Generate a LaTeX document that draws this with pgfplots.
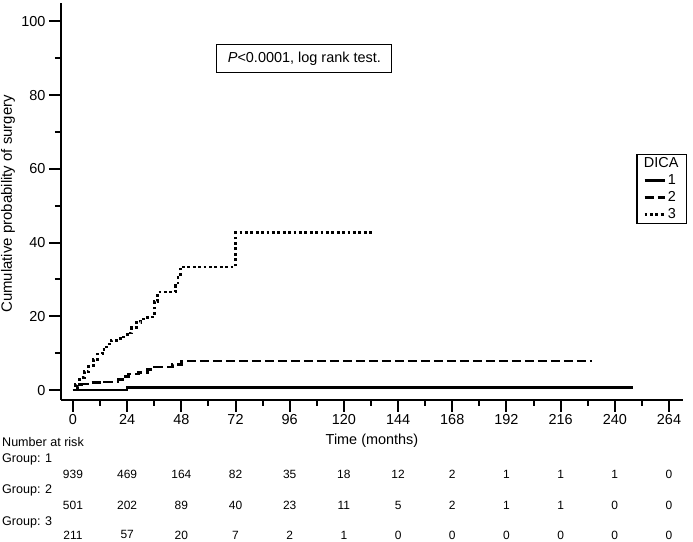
\documentclass[border=0pt]{standalone}
\usepackage{fontspec}
\setmainfont{Liberation Sans}
\usepackage{pgfplots}
\pgfplotsset{compat=1.18}

\begin{document}
\begin{tikzpicture}
\useasboundingbox (-61bp,-142bp) rectangle (632bp,400bp);
\begin{axis}[
  at={(0,0)}, anchor=south west,
  scale only axis,
  width=622bp, height=397bp,
  xmin=-5.3, xmax=270.2,
  ymin=-2.7, ymax=105,
  axis lines=left,
  axis line style={-, line width=2.6bp},
  xtick={0,24,...,264},
  minor xtick={12,36,...,252},
  ytick={0,20,...,100},
  minor ytick={10,30,...,90},
  tick align=outside,
  major tick length=12bp,
  minor tick length=6bp,
  every tick/.style={black, line width=2bp},
  /pgf/number format/assume math mode=true,
  tick label style={font=\fontsize{14.5}{17}\selectfont},
  xticklabel style={yshift=1bp},
  xlabel={Time (months)},
  ylabel={Cumulative probability of surgery},
  x label style={at={(axis description cs:0.5,0)}, yshift=-41bp, anchor=center,
    font=\fontsize{14.5}{17}\selectfont},
  y label style={at={([xshift=-53bp]axis description cs:0,0.494)}, anchor=center,
    font=\fontsize{15}{18}\selectfont},
  clip=false,
  legend style={at={(axis cs:260.8,54.5)}, anchor=center, draw=black,
    line width=1.3bp, font=\fontsize{14.5}{16.5}\selectfont,
    inner xsep=6bp, inner ysep=1bp, row sep=1.5bp},
  legend cell align=left,
  legend image code/.code={\draw[#1] (0bp,0bp) -- (20bp,0bp);},
]
\addlegendimage{empty legend}
\addlegendentry{\hspace{-24bp}DICA\hspace{8bp}}

% DICA 1
\addplot[const plot, black, line width=2.6bp] coordinates {
  (0,0) (24,0.7) (248,0.7)
};
\addlegendentry{1}

% DICA 2
\addplot[const plot, black, line width=2.6bp, dash pattern=on 9bp off 4bp] coordinates {
  (0,0) (2,1.0) (4,1.6) (8,2.0) (14,2.2) (20,2.8) (23,3.6) (24.5,4.3)
  (29,4.8) (33,5.6) (36,6.2) (44,7.0) (48,7.9) (230,7.9)
};
\addlegendentry{2}

% DICA 3
\addplot[const plot, black, line width=2.8bp, dash pattern=on 2.8bp off 2.6bp] coordinates {
  (0,0) (1,1.5) (3,3.5) (5,5) (7,6.5) (9,8.3) (11,9.8) (13,11) (15,12.5)
  (17,13.5) (21,14.4) (24,15.5) (26,17) (28,18.3) (30,19.3) (33,19.8)
  (36,24) (37.5,26.6) (45.5,28.5) (46.5,30.5) (47.5,33.4) (72,42.7) (133,42.7)
};
\addlegendentry{3}

% number at risk
\pgfplotsset{risk/.style={forget plot, draw=none, mark=none,
  nodes near coords, point meta=explicit symbolic,
  every node near coord/.append style={anchor=center, font=\fontsize{12}{14}\selectfont}}}
\addplot[risk] coordinates {
  (0,-22.8)[939] (24,-22.8)[469] (48,-22.8)[164] (72,-22.8)[82] (96,-22.8)[35]
  (120,-22.8)[18] (144,-22.8)[12] (168,-22.8)[2] (192,-22.8)[1] (216,-22.8)[1]
  (240,-22.8)[1] (264,-22.8)[0]
};
\addplot[risk] coordinates {
  (0,-31.2)[501] (24,-31.2)[202] (48,-31.2)[89] (72,-31.2)[40] (96,-31.2)[23]
  (120,-31.2)[11] (144,-31.2)[5] (168,-31.2)[2] (192,-31.2)[1] (216,-31.2)[1]
  (240,-31.2)[0] (264,-31.2)[0]
};
\addplot[risk] coordinates {
  (0,-39.3)[211] (24,-39.3)[57] (48,-39.3)[20] (72,-39.3)[7] (96,-39.3)[2]
  (120,-39.3)[1] (144,-39.3)[0] (168,-39.3)[0] (192,-39.3)[0] (216,-39.3)[0]
  (240,-39.3)[0] (264,-39.3)[0]
};

\node[draw=black, line width=1.2bp, minimum width=175bp, minimum height=28bp,
  font=\fontsize{14.5}{17}\selectfont] at (axis cs:102.5,90)
  {\textit{P}<0.0001, log rank test.};
\end{axis}
\begin{scope}[every node/.style={anchor=west, inner sep=0pt, font=\fontsize{12.6}{14}\selectfont}]
\node at (-59bp,-42bp) {Number at risk};
\node at (-59bp,-59bp) {Group: 1};
\node at (-59bp,-90bp) {Group: 2};
\node at (-59bp,-122bp) {Group: 3};
\end{scope}
\end{tikzpicture}
\end{document}
